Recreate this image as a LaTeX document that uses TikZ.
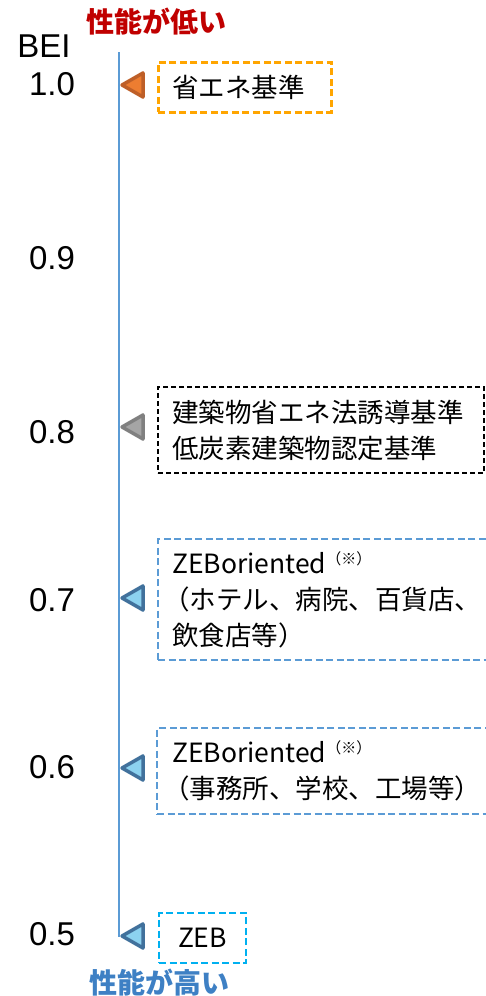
\documentclass[tikz,border=0pt]{standalone}
\usepackage{fontspec}
\setmainfont{Liberation Sans}
\newfontfamily\jpfont{Noto Sans CJK JP}
\usetikzlibrary{positioning}

\definecolor{axisblue}{RGB}{91,155,213}
\definecolor{lowred}{RGB}{192,0,0}
\definecolor{highblue}{RGB}{62,128,196}
\definecolor{stdorange}{RGB}{255,165,0}
\definecolor{zebcyan}{RGB}{0,176,240}
\definecolor{orangefill}{RGB}{237,125,49}
\definecolor{orangeline}{RGB}{190,95,40}
\definecolor{grayfill}{RGB}{165,165,165}
\definecolor{grayline}{RGB}{128,128,128}
\definecolor{bluefill}{RGB}{140,210,240}
\definecolor{blueline}{RGB}{65,113,156}

\tikzset{
    beilabel/.style={font=\fontsize{33}{33}\selectfont, inner sep=0pt},
    perflabel/.style={font=\jpfont\bfseries\fontsize{28}{28}\selectfont, inner sep=0pt},
    levelbox/.style={draw, line width=2pt, dash pattern=on 7pt off 3.5pt,
        anchor=north west, inner sep=0pt},
    leveltext/.style={anchor=west, inner sep=0pt, align=left,
        font=\jpfont\fontsize{26.5}{36}\selectfont},
    levelmark/.style={line width=3.5pt, line join=round}
}

\newcommand{\zebnote}{\raisebox{9pt}{\fontsize{15}{15}\selectfont （※）}}
\newcommand{\paren}{\hspace*{-9pt}（}

\begin{document}
\begin{tikzpicture}[x=1pt,y=-1pt]
    \useasboundingbox (0,0) rectangle (485,996);

    % BEI axis
    \coordinate (axtop) at (119,52);
    \coordinate (axbot) at (119,937);
    \draw[axisblue, line width=2pt] (axtop) -- (axbot);
    \node[perflabel, text=lowred] (low) at (156,22) {性能が低い};
    \node[perflabel, text=highblue] (high) at (159,983) {性能が高い};
    \node[beilabel] (bei) at (44,46) {BEI};

    % tick values
    \node[beilabel] (v10) at (52,84) {1.0};
    \node[beilabel] (v09) at (52,258) {0.9};
    \node[beilabel] (v08) at (52,432) {0.8};
    \node[beilabel] (v07) at (52,600) {0.7};
    \node[beilabel] (v06) at (52,767) {0.6};
    \node[beilabel] (v05) at (52,934) {0.5};

    % markers on the axis
    \draw[levelmark, draw=orangeline, fill=orangefill]
        (122,85) -- (143,73) -- (143,97) -- cycle;
    \draw[levelmark, draw=grayline, fill=grayfill]
        (122,427) -- (143,415) -- (143,439) -- cycle;
    \draw[levelmark, draw=blueline, fill=bluefill]
        (122,598) -- (143,586) -- (143,610) -- cycle;
    \draw[levelmark, draw=blueline, fill=bluefill]
        (122,768) -- (143,756) -- (143,780) -- cycle;
    \draw[levelmark, draw=blueline, fill=bluefill]
        (122,936) -- (143,924) -- (143,948) -- cycle;

    % levels
    \node[levelbox, draw=stdorange, line width=2.5pt,
        minimum width=173pt, minimum height=50pt] (std) at (157,61) {};
    \node[leveltext, right=15pt of std.west] (stdtxt) {省エネ基準};

    \node[levelbox, draw=black, dash pattern=on 5pt off 3pt,
        minimum width=326pt, minimum height=86pt] (lowcarbon) at (157,386) {};
    \node[leveltext, right=15pt of lowcarbon.west] (lowcarbontxt)
        {建築物省エネ法誘導基準\\低炭素建築物認定基準};

    \node[levelbox, draw=axisblue,
        minimum width=350pt, minimum height=121pt] (zebohotel) at (157,538) {};
    \node[leveltext, right=15pt of zebohotel.west] (zebohoteltxt)
        {ZEBoriented\zebnote\\\paren ホテル、病院、百貨店、\\飲食店等）};

    \node[levelbox, draw=axisblue,
        minimum width=350pt, minimum height=86pt] (zeboffice) at (156,727) {};
    \node[leveltext, right=16pt of zeboffice.west] (zeboffictxt)
        {ZEBoriented\zebnote\\\paren 事務所、学校、工場等）};

    \node[levelbox, draw=zebcyan, font=\jpfont\fontsize{26.5}{36}\selectfont,
        minimum width=87pt, minimum height=50pt] (zeb) at (158,912) {ZEB};
\end{tikzpicture}
\end{document}
